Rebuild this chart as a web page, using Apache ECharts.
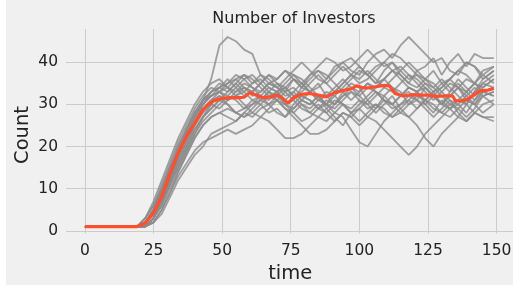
<!DOCTYPE html>
<html>
<head>
<meta charset="utf-8">
<script src="https://cdn.jsdelivr.net/npm/echarts@6/dist/echarts.min.js"></script>
<style>
  html, body { margin: 0; padding: 0; background: #fff; }
  #chart { position: absolute; left: 6px; top: 0; width: 507px; height: 285px; background: #f0f0f0; }
</style>
</head>
<body>
<div id="chart"></div>
<script>
// sample times shared by every simulated run
const runTimes = [0, 19, 22, 25, 28, 31, 34, 37, 40, 43, 46, 49, 52, 55, 58, 61, 64, 67, 70, 73, 76, 79, 82,
  85, 88, 91, 94, 97, 100, 103, 106, 109, 112, 115, 118, 121, 124, 127, 130, 133, 136, 139, 142, 145, 149];

// individual runs (grey)
const runs = [
  [1,1,2,5,9,14,19,23,27,31,36,44,46,45,43,42,37,35,34,33,31,34,33,35,32,30,33,35,34,31,29,32,34,33,30,31,34,32,30,33,35,33,31,34,36],
  [1,1,2,4,8,13,18,22,26,29,31,33,34,33,35,34,32,30,31,33,34,32,31,29,30,28,27,24,21,20,23,26,28,30,31,29,31,33,30,32,34,31,30,32,33],
  [1,1,1,3,6,11,15,19,23,27,30,32,31,33,34,32,33,35,34,32,33,31,30,32,29,31,30,28,29,27,26,24,22,20,18,20,23,25,27,29,30,28,31,33,32],
  [1,1,2,5,10,15,20,24,28,31,33,34,35,36,34,33,35,37,35,33,36,34,37,38,36,39,40,38,37,40,42,43,41,44,46,44,42,40,41,38,37,40,39,36,38],
  [1,1,3,6,11,16,21,25,29,32,34,33,35,37,36,34,33,35,36,38,37,35,33,34,36,38,40,41,39,37,35,38,40,37,35,38,39,41,37,40,42,39,42,41,41],
  [1,1,1,2,5,9,13,16,19,21,22,23,24,23,24,25,27,26,24,22,22,23,25,27,26,28,30,29,31,30,28,30,32,29,31,33,30,28,31,29,27,30,28,27,27],
  [1,1,2,4,7,11,16,20,24,27,29,31,30,28,29,31,30,28,29,27,30,32,31,29,28,30,32,33,31,29,30,28,27,29,27,25,22,20,23,25,27,26,28,27,26],
  [1,1,1,2,4,8,12,15,18,20,23,24,25,26,28,27,29,30,28,27,29,31,30,32,30,29,31,33,32,34,33,31,30,32,34,33,35,34,32,30,31,33,35,34,36],
  [1,1,2,5,9,14,19,23,27,30,32,34,33,35,37,36,34,32,33,35,37,36,34,32,30,33,35,37,36,38,36,34,33,35,37,36,34,32,30,29,31,30,33,35,34],
  [1,1,3,7,12,17,22,26,30,33,35,36,34,32,33,35,37,36,34,36,38,40,38,36,35,37,39,37,35,36,38,40,42,41,39,37,36,38,35,33,36,34,32,35,37],
  [1,1,2,4,8,12,17,21,25,28,30,29,31,32,30,28,27,29,31,30,28,26,27,29,31,30,32,34,33,35,33,31,29,30,32,31,29,27,29,31,28,26,28,30,31],
  [1,1,1,3,6,10,14,18,22,25,27,28,27,26,28,30,32,31,33,34,32,30,28,27,29,27,25,28,30,32,34,36,38,39,37,35,33,31,33,35,34,32,30,33,32],
  [1,1,2,5,9,13,18,22,26,30,33,34,36,34,32,33,31,30,32,34,36,35,37,39,41,40,38,39,41,43,41,39,40,38,36,37,35,33,34,36,38,40,39,37,39],
  [1,1,1,3,7,11,15,19,23,26,28,30,32,31,29,30,31,33,32,30,31,29,28,30,28,26,28,27,25,27,29,31,30,28,27,29,31,30,28,27,29,31,30,28,30],
  [1,1,3,6,10,15,19,24,28,31,32,33,32,34,36,37,35,33,31,29,27,25,23,23,24,26,28,27,29,31,33,32,30,32,34,33,31,33,35,36,34,33,35,37,35],
  [1,1,2,4,8,12,16,20,24,27,29,31,33,35,33,31,32,34,33,31,33,35,33,31,32,34,36,34,32,30,32,34,36,38,40,38,36,34,36,34,32,30,33,36,38],
  [1,1,1,3,7,12,17,21,25,29,31,32,30,28,27,29,31,33,35,34,32,33,35,37,35,33,35,37,39,37,35,36,34,32,33,31,30,32,34,36,38,37,35,38,39],
  [1,1,2,5,10,15,20,24,28,31,33,35,34,36,37,35,36,34,33,30,29,31,33,31,30,32,34,36,38,37,39,40,38,36,34,33,34,32,30,32,34,36,35,33,34],
  [1,1,1,2,5,9,14,18,22,25,27,28,29,28,27,28,30,32,31,29,28,30,29,31,33,32,30,28,26,28,30,29,27,28,30,32,31,29,28,30,29,27,29,32,33],
  [1,1,2,4,8,13,18,23,27,30,32,33,31,32,34,33,35,37,36,38,36,34,36,38,37,35,33,31,33,35,34,36,38,37,35,34,36,35,33,31,30,32,34,32,30]
];

// mean over runs (red)
const meanTimes = [0, 19, 22, 25, 28, 31, 34, 37, 40, 43, 45, 47, 50, 53, 56, 58, 60, 62, 65, 68, 70, 72, 74, 76,
  79, 82, 85, 88, 91, 94, 97, 99, 101, 103, 106, 109, 111, 113, 116, 119, 122, 125, 128, 131, 134, 135, 137,
  139, 141, 144, 147, 149];
const meanValues = [1, 1, 1.8, 4.2, 8.1, 13.5, 18.4, 22.4, 25.5, 28.7, 30, 30.9, 31.4, 31.6, 31.6, 31.7, 32.8,
  32.3, 31.6, 31.8, 32.2, 31.5, 30.3, 31.6, 32.4, 32.6, 32.2, 31.8, 32.8, 33.3, 33.7, 34.4, 34, 33.9, 34.2,
  34.5, 34.4, 32.6, 32, 32.3, 32.2, 32.2, 31.9, 32, 32, 30.9, 30.8, 31.1, 31.9, 33.2, 33.4, 33.8];

const xTicks = [0, 25, 50, 75, 100, 125, 150];
const yTicks = [0, 10, 20, 30, 40];

const font = 'DejaVu Sans';
const chart = echarts.init(document.getElementById('chart'), null, { renderer: 'canvas' });

const series = runs.map((run, i) => ({
  name: 'run ' + (i + 1),
  type: 'line',
  data: run.map((v, j) => [runTimes[j], v]),
  showSymbol: false,
  silent: true,
  lineStyle: { color: '#8a8a8a', width: 1.8, opacity: 0.8 },
  z: 2
}));
series.push({
  name: 'mean',
  type: 'line',
  data: meanValues.map((v, j) => [meanTimes[j], v]),
  showSymbol: false,
  silent: true,
  lineStyle: { color: '#fc4f30', width: 3.2 },
  z: 3
});

chart.setOption({
  animation: false,
  backgroundColor: '#f0f0f0',
  title: {
    text: 'Number of Investors',
    left: 283,
    textAlign: 'center',
    top: 6,
    textStyle: { fontFamily: font, fontSize: 16, fontWeight: 'normal', color: '#222' }
  },
  // y axis title placed by hand
  graphic: [{
    type: 'text',
    x: 17,
    y: 135,
    rotation: Math.PI / 2,
    style: {
      text: 'Count',
      font: '19.5px "DejaVu Sans"',
      fill: '#222',
      textAlign: 'center',
      textVerticalAlign: 'middle'
    }
  }],
  grid: { left: 60, top: 29, width: 448.4, height: 204.5, outerBoundsMode: 'none', containLabel: false },
  xAxis: {
    type: 'value',
    min: -6.9,
    max: 156.5,
    name: 'time',
    nameLocation: 'middle',
    nameGap: 30,
    nameTextStyle: { fontFamily: font, fontSize: 19.5, color: '#222' },
    axisLine: { show: false },
    axisTick: { show: false, customValues: xTicks },
    axisLabel: { customValues: xTicks, fontFamily: font, fontSize: 15.5, color: '#222', margin: 9 },
    splitLine: { show: true, lineStyle: { color: '#cbcbcb', width: 1 } }
  },
  yAxis: {
    type: 'value',
    min: -0.65,
    max: 47.9,
    axisLine: { show: false },
    axisTick: { show: false, customValues: yTicks },
    axisLabel: { customValues: yTicks, fontFamily: font, fontSize: 15.5, color: '#222', margin: 8 },
    splitLine: { show: true, lineStyle: { color: '#cbcbcb', width: 1 } }
  },
  series: series
});
</script>
</body>
</html>
